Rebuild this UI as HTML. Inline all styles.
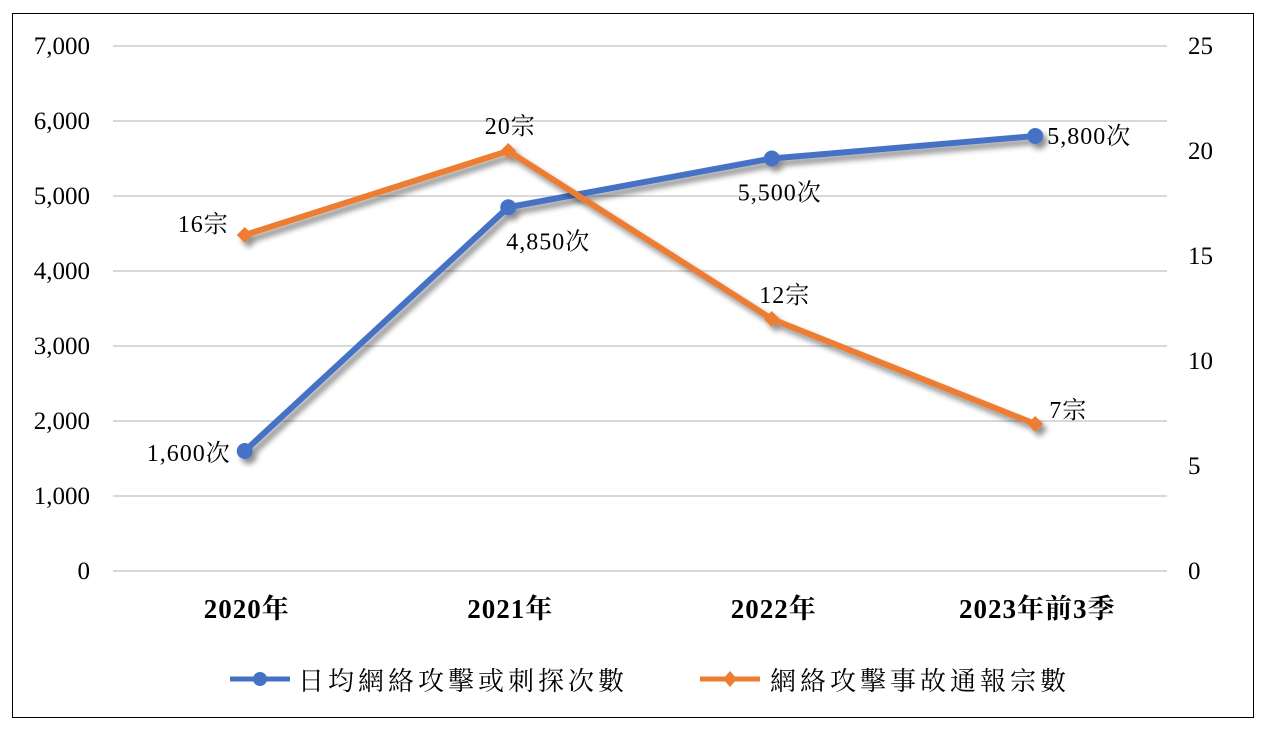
<!DOCTYPE html>
<html><head><meta charset="utf-8"><style>
html,body{margin:0;padding:0;background:#fff;}
svg{display:block;font-family:"Liberation Serif","Noto Serif CJK SC",serif;}
</style></head><body>
<svg id="chart" width="1264" height="732">
<defs><filter id="sh" x="-10%" y="-10%" width="120%" height="130%"><feGaussianBlur in="SourceAlpha" stdDeviation="3"/><feOffset dx="4" dy="5"/><feComponentTransfer><feFuncA type="linear" slope="0.45"/></feComponentTransfer><feMerge><feMergeNode/><feMergeNode in="SourceGraphic"/></feMerge></filter></defs>
<rect x="12.5" y="13.5" width="1241" height="704" fill="#fff" stroke="#000" stroke-width="1"/>
<g id="grid"></g><g id="axes"></g><g id="series"></g><g id="labels"></g>
<g>
<g>
<line x1="230" y1="679" x2="290" y2="679" stroke="#4472C4" stroke-width="5"/><circle cx="260" cy="679" r="7" fill="#4472C4"/>
<text x="298" y="690" font-size="26" letter-spacing="4" fill="#000">日均網絡攻擊或刺探次數</text></g>
<g>
<line x1="700" y1="679" x2="760" y2="679" stroke="#ED7D31" stroke-width="5"/><path d="M730 671 L737 679 L730 687 L723 679Z" fill="#ED7D31"/>
<text x="770" y="690" font-size="26" letter-spacing="4" fill="#000">網絡攻擊事故通報宗數</text></g>
</g>
</svg>
<script>
const categories=["2020年","2021年","2022年","2023年前3季"];
const attacks=[1600,4850,5500,5800];
const incidents=[16,20,12,7];
const leftTicks=[0,1000,2000,3000,4000,5000,6000,7000];
const rightTicks=[0,5,10,15,20,25];
const attackLabels=["1,600次","4,850次","5,500次","5,800次"];
const incidentLabels=["16宗","20宗","12宗","7宗"];
const NS="http://www.w3.org/2000/svg";
const x0=113,x1=1167,yb=571,yt=46;
const xs=i=>x0+(x1-x0)/categories.length*(i+0.5);
const yl=v=>yb-(yb-yt)*v/7000;
const yr=v=>yb-(yb-yt)*v/25;
function mk(tag,attrs,parent,txt){const e=document.createElementNS(NS,tag);for(const k in attrs)e.setAttribute(k,attrs[k]);if(txt!==undefined)e.textContent=txt;parent.appendChild(e);return e;}
const grid=document.getElementById('grid'),axes=document.getElementById('axes'),ser=document.getElementById('series'),lab=document.getElementById('labels');
leftTicks.forEach(t=>{
 const l=mk('line',{x1:x0,x2:x1,y1:yl(t),y2:yl(t),stroke:'#d9d9d9','stroke-width':2},grid);
 
 
 const tx=mk('text',{x:90,y:yl(t)+8,'text-anchor':'end','font-size':25,fill:'#000'},axes,t.toLocaleString('en-US'));
 
 
});
rightTicks.forEach(t=>{
 const tx=mk('text',{x:1188,y:yr(t)+8,'font-size':25,fill:'#000'},axes,String(t));
 
 
});
categories.forEach((c,i)=>{
 const tx=mk('text',{x:xs(i)+2,y:618,'text-anchor':'middle','font-size':27,'font-weight':'bold','letter-spacing':1,fill:'#000'},axes,c);
 
 
});
const g1=mk('g',{filter:'url(#sh)'},ser);


const p1=mk('polyline',{points:attacks.map((v,i)=>xs(i)+','+yl(v)).join(' '),fill:'none',stroke:'#4472C4','stroke-width':6,'stroke-linejoin':'round'},g1);


attacks.forEach((v,i)=>{
 const c=mk('circle',{cx:xs(i),cy:yl(v),r:8,fill:'#4472C4'},g1);
 
 
});
const g2=mk('g',{filter:'url(#sh)'},ser);


const p2=mk('polyline',{points:incidents.map((v,i)=>xs(i)+','+yr(v)).join(' '),fill:'none',stroke:'#ED7D31','stroke-width':6,'stroke-linejoin':'round'},g2);


incidents.forEach((v,i)=>{
 const x=xs(i),y=yr(v);
 const d=mk('path',{d:`M${x} ${y-8} L${x+8} ${y} L${x} ${y+8} L${x-8} ${y}Z`,fill:'#ED7D31'},g2);
 
 
});
const aOff=[[-14,10,'end'],[-2,42,'start'],[-34,42,'start'],[12,8,'start']];
attacks.forEach((v,i)=>{
 const o=aOff[i];
 const t=mk('text',{x:xs(i)+o[0],y:yl(v)+o[1],'text-anchor':o[2],'font-size':24,'letter-spacing':1,fill:'#000'},lab,attackLabels[i]);
 
 
});
const iOff=[[-16,-3,'end'],[2,-17,'middle'],[13,-16,'middle'],[14,-6,'start']];
incidents.forEach((v,i)=>{
 const o=iOff[i];
 const t=mk('text',{x:xs(i)+o[0],y:yr(v)+o[1],'text-anchor':o[2],'font-size':24,'letter-spacing':1,fill:'#000'},lab,incidentLabels[i]);
 
 
});
</script>
</body></html>
